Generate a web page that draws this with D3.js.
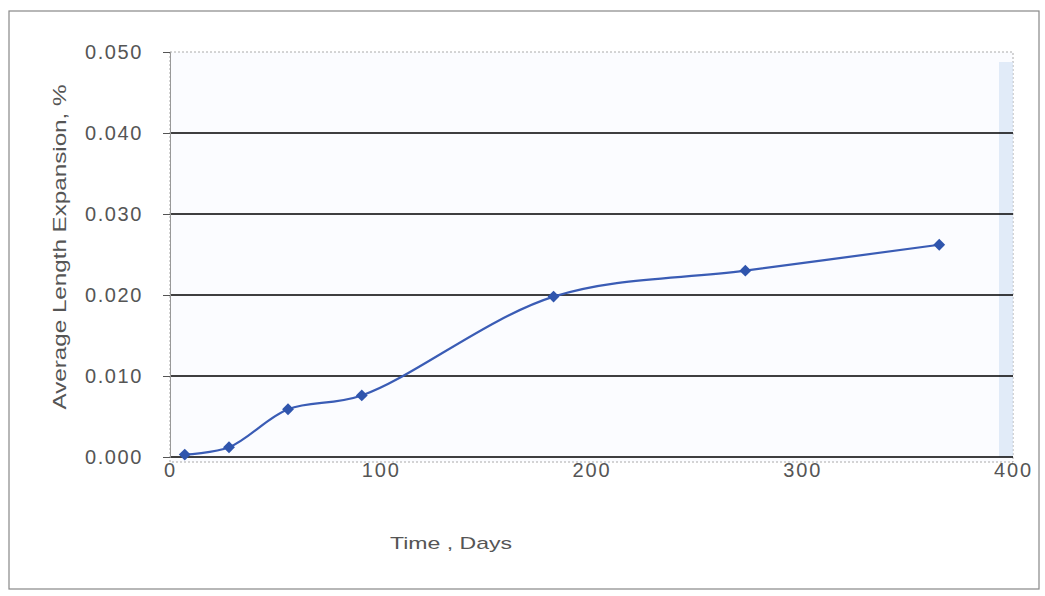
<!DOCTYPE html>
<html>
<head>
<meta charset="utf-8">
<script src="https://cdn.jsdelivr.net/npm/d3@7"></script>
<style>
  body { margin: 0; background: #fff; }
  text { font-family: "Liberation Sans", Arial, sans-serif; fill: #555; }
</style>
</head>
<body>
<script>
// data
var days = [7, 28, 56, 91, 182, 273, 365];
var expansion = [0.0003, 0.0012, 0.0059, 0.0076, 0.0198, 0.0230, 0.0262];
var xTicks = [0, 100, 200, 300, 400];
var yTicks = [0, 0.01, 0.02, 0.03, 0.04, 0.05];

window.onload = function(){
  var w = 1045, h = 596;
  var left = 170, right = 1013, top = 52, bottom = 457;

  var svg = d3.select("body").append("svg")
    .attr("width", w)
    .attr("height", h);

  // outer frame of the chart
  svg.append("rect")
    .attr("x", 9).attr("y", 11)
    .attr("width", 1030).attr("height", 578)
    .style("fill", "none")
    .style("stroke", "#888")
    .style("stroke-width", 1.2);

  var x = d3.scaleLinear().domain([0, 400]).range([left, right]);
  var y = d3.scaleLinear().domain([0, 0.05]).range([bottom, top]);

  // plot area
  svg.append("rect")
    .attr("x", left).attr("y", top)
    .attr("width", right - left).attr("height", bottom - top + 5)
    .style("fill", "#fbfcff")
    .style("stroke", "#aaa")
    .style("stroke-dasharray", "2,2");

  // faint blue band at the right edge (scan shading)
  svg.append("rect")
    .attr("x", right - 14).attr("y", top + 10)
    .attr("width", 14).attr("height", bottom - top - 10)
    .style("fill", "#d6e4f5")
    .style("opacity", 0.7);

  // gridlines
  svg.append("g").selectAll("line")
    .data(yTicks.slice(0, 5))
    .enter().append("line")
    .attr("x1", left).attr("x2", right)
    .attr("y1", function(d){ return y(d); })
    .attr("y2", function(d){ return y(d); })
    .style("stroke", "#000")
    .style("stroke-width", 1.4);

  // y axis
  var yAxis = d3.axisLeft(y)
    .tickValues(yTicks)
    .tickFormat(d3.format(".3f"))
    .tickSize(7)
    .tickPadding(20);
  var gy = svg.append("g")
    .attr("transform", "translate(" + left + ",0)")
    .call(yAxis);
  gy.select(".domain").style("stroke", "#999");
  gy.selectAll(".tick line").style("stroke", "#555");
  gy.selectAll("text")
    .style("font-size", "20px")
    .style("letter-spacing", "1.6px")
    .style("fill", "#555");

  // x axis (labels only, as in the scan)
  var xAxis = d3.axisBottom(x)
    .tickValues(xTicks)
    .tickSize(0)
    .tickPadding(6);
  var gx = svg.append("g")
    .attr("transform", "translate(0," + bottom + ")")
    .call(xAxis);
  gx.select(".domain").remove();
  gx.selectAll("text")
    .style("font-size", "20px")
    .style("letter-spacing", "1.8px")
    .style("fill", "#555");

  // axis titles
  svg.append("text")
    .attr("x", 451).attr("y", 549)
    .attr("text-anchor", "middle")
    .attr("textLength", 122)
    .attr("lengthAdjust", "spacingAndGlyphs")
    .style("font-size", "17px")
    .text("Time , Days");

  svg.append("text")
    .attr("transform", "translate(66,247) rotate(-90)")
    .attr("text-anchor", "middle")
    .attr("textLength", 325)
    .attr("lengthAdjust", "spacingAndGlyphs")
    .style("font-size", "18px")
    .text("Average Length Expansion, %");

  var pts = days.map(function(d, i){ return [d, expansion[i]]; });

  var line = d3.line()
    .x(function(d){ return x(d[0]); })
    .y(function(d){ return y(d[1]); })
    .curve(d3.curveCatmullRom.alpha(0.5));

  svg.append("path")
    .datum(pts)
    .attr("d", line)
    .style("fill", "none")
    .style("stroke", "#3a5cb5")
    .style("stroke-width", 2.2);

  svg.append("g").selectAll("path")
    .data(pts)
    .enter().append("path")
    .attr("d", d3.symbol().type(d3.symbolSquare).size(70))
    .attr("transform", function(d){ return "translate(" + x(d[0]) + "," + y(d[1]) + ") rotate(45)"; })
    .style("fill", "#2f55ad");
};
</script>
</body>
</html>
